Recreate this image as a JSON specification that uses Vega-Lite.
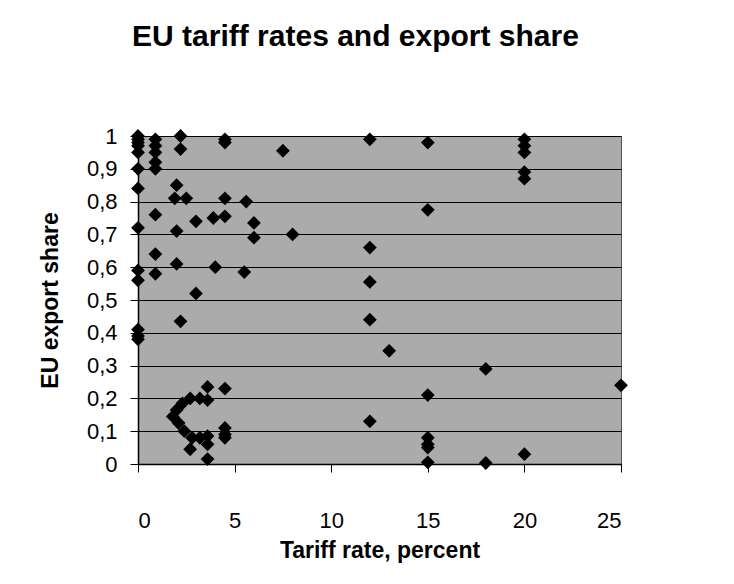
{
  "$schema": "https://vega.github.io/schema/vega-lite/v6.json",
  "autosize": {"type": "none"},
  "width": 483,
  "height": 328,
  "padding": {"left": 138, "top": 136, "right": 113, "bottom": 120},
  "background": "white",
  "title": {
    "text": "EU tariff rates and export share",
    "font": "Liberation Sans",
    "fontSize": 30,
    "fontWeight": "bold",
    "color": "black",
    "anchor": "middle",
    "dx": -24,
    "offset": 73
  },
  "config": {
    "view": {"fill": "#ababab", "stroke": "#555555", "strokeWidth": 1},
    "axis": {
      "labelFont": "Liberation Sans",
      "titleFont": "Liberation Sans",
      "labelColor": "black",
      "titleColor": "black",
      "domainColor": "black",
      "tickColor": "black"
    }
  },
  "data": {
    "values": [
      {"tariff": 0, "share": 1.0}, {"tariff": 0, "share": 0.99}, {"tariff": 0, "share": 0.98}, {"tariff": 0, "share": 0.97},
      {"tariff": 0, "share": 0.95}, {"tariff": 0, "share": 0.9}, {"tariff": 0, "share": 0.84}, {"tariff": 0, "share": 0.72},
      {"tariff": 0, "share": 0.59}, {"tariff": 0, "share": 0.56}, {"tariff": 0, "share": 0.41}, {"tariff": 0, "share": 0.39},
      {"tariff": 0, "share": 0.38},
      {"tariff": 0.9, "share": 0.99}, {"tariff": 0.9, "share": 0.97}, {"tariff": 0.9, "share": 0.95}, {"tariff": 0.9, "share": 0.92},
      {"tariff": 0.9, "share": 0.9}, {"tariff": 0.9, "share": 0.76}, {"tariff": 0.9, "share": 0.64}, {"tariff": 0.9, "share": 0.58},
      {"tariff": 2.2, "share": 1.0}, {"tariff": 2.2, "share": 0.96},
      {"tariff": 2.0, "share": 0.85}, {"tariff": 2.0, "share": 0.71}, {"tariff": 2.0, "share": 0.61},
      {"tariff": 1.9, "share": 0.81}, {"tariff": 2.5, "share": 0.81}, {"tariff": 2.2, "share": 0.435},
      {"tariff": 3.0, "share": 0.74}, {"tariff": 3.0, "share": 0.52},
      {"tariff": 3.9, "share": 0.75}, {"tariff": 4.5, "share": 0.755},
      {"tariff": 4.5, "share": 0.99}, {"tariff": 4.5, "share": 0.98}, {"tariff": 4.5, "share": 0.81},
      {"tariff": 5.6, "share": 0.8}, {"tariff": 6.0, "share": 0.735}, {"tariff": 6.0, "share": 0.69},
      {"tariff": 4.0, "share": 0.6}, {"tariff": 5.5, "share": 0.585},
      {"tariff": 7.5, "share": 0.955}, {"tariff": 8.0, "share": 0.7},
      {"tariff": 12, "share": 0.99}, {"tariff": 12, "share": 0.66}, {"tariff": 12, "share": 0.555}, {"tariff": 12, "share": 0.44}, {"tariff": 12, "share": 0.13},
      {"tariff": 13, "share": 0.345},
      {"tariff": 15, "share": 0.98}, {"tariff": 15, "share": 0.775}, {"tariff": 15, "share": 0.21}, {"tariff": 15, "share": 0.08},
      {"tariff": 15, "share": 0.06}, {"tariff": 15, "share": 0.05}, {"tariff": 15, "share": 0.005},
      {"tariff": 18, "share": 0.29}, {"tariff": 18, "share": 0.003},
      {"tariff": 20, "share": 0.99}, {"tariff": 20, "share": 0.97}, {"tariff": 20, "share": 0.95}, {"tariff": 20, "share": 0.89},
      {"tariff": 20, "share": 0.87}, {"tariff": 20, "share": 0.03},
      {"tariff": 25, "share": 0.24},
      {"tariff": 3.2, "share": 0.2}, {"tariff": 2.7, "share": 0.2}, {"tariff": 2.3, "share": 0.185}, {"tariff": 2.0, "share": 0.165},
      {"tariff": 1.8, "share": 0.145}, {"tariff": 2.1, "share": 0.125}, {"tariff": 2.4, "share": 0.1}, {"tariff": 2.8, "share": 0.08},
      {"tariff": 2.7, "share": 0.045}, {"tariff": 3.2, "share": 0.08}, {"tariff": 3.6, "share": 0.085}, {"tariff": 3.6, "share": 0.06},
      {"tariff": 3.6, "share": 0.015}, {"tariff": 3.6, "share": 0.195}, {"tariff": 3.6, "share": 0.235},
      {"tariff": 4.5, "share": 0.23}, {"tariff": 4.5, "share": 0.11}, {"tariff": 4.5, "share": 0.09}, {"tariff": 4.5, "share": 0.08}
    ]
  },
  "mark": {"type": "point", "shape": "diamond", "filled": true, "color": "black", "opacity": 1, "size": 190, "clip": false},
  "encoding": {
    "x": {
      "field": "tariff",
      "type": "quantitative",
      "scale": {"domain": [0, 25], "nice": false, "zero": true},
      "axis": {
        "values": [0, 5, 10, 15, 20, 25],
        "grid": false,
        "title": "Tariff rate, percent",
        "titleFontSize": 23,
        "titleFontWeight": "bold",
        "titlePadding": 8,
        "labelFontSize": 22,
        "labelPadding": 38,
        "tickSize": 8,
        "domainWidth": 1.5
      }
    },
    "y": {
      "field": "share",
      "type": "quantitative",
      "scale": {"domain": [0, 1], "nice": false},
      "axis": {
        "values": [0, 0.1, 0.2, 0.3, 0.4, 0.5, 0.6, 0.7, 0.8, 0.9, 1],
        "grid": true,
        "gridColor": "black",
        "gridWidth": 1,
        "gridOpacity": 1,
        "labelExpr": "replace(format(datum.value, '~g'), '.', ',')",
        "title": "EU export share",
        "titleFontSize": 23,
        "titleFontWeight": "bold",
        "titlePadding": 24,
        "labelFontSize": 22,
        "labelPadding": 13,
        "tickSize": 8,
        "domainWidth": 1.5
      }
    }
  }
}
